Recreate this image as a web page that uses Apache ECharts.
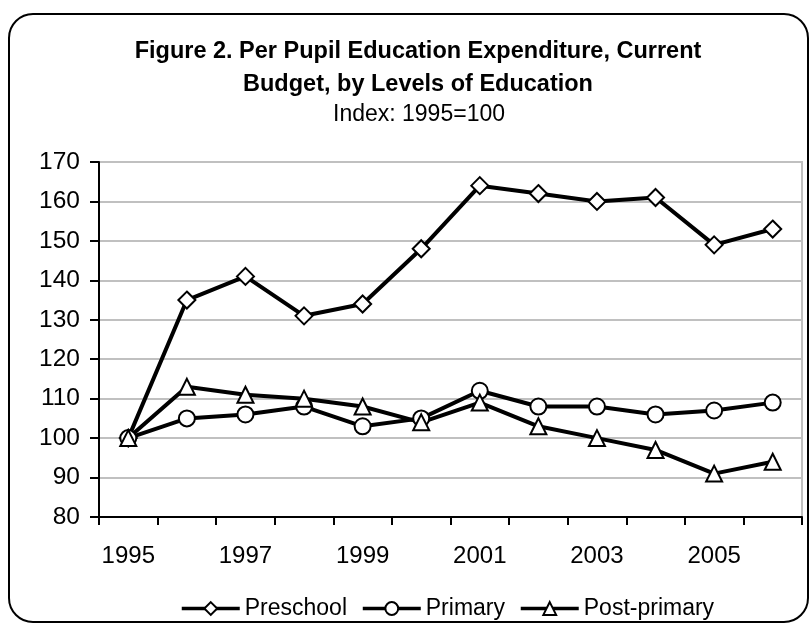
<!DOCTYPE html>
<html>
<head>
<meta charset="utf-8">
<script src="https://cdn.jsdelivr.net/npm/echarts@6/dist/echarts.min.js"></script>
<style>
  html, body { margin: 0; padding: 0; background: #fff; }
  #chart { width: 811px; height: 626px; }
</style>
</head>
<body>
<div id="chart"></div>
<script>
// Per pupil education expenditure index (1995 = 100)
const years = ['1995', '1996', '1997', '1998', '1999', '2000', '2001', '2002', '2003', '2004', '2005', '2006'];
const preschool = [100, 135, 141, 131, 134, 148, 164, 162, 160, 161, 149, 153];
const primary = [100, 105, 106, 108, 103, 105, 112, 108, 108, 106, 107, 109];
const postPrimary = [100, 113, 111, 110, 108, 104, 109, 103, 100, 97, 91, 94];
const seriesNames = ['Preschool', 'Primary', 'Post-primary'];

const titleLine1 = 'Figure 2. Per Pupil Education Expenditure, Current';
const titleLine2 = 'Budget, by Levels of Education';
const subtitleText = 'Index: 1995=100';

const yMin = 80;
const yMax = 170;
const yStep = 10;

const FONT = '"Liberation Sans", Arial, Helvetica, sans-serif';

const chart = echarts.init(document.getElementById('chart'), null, { renderer: 'canvas' });

function lineSeries(name, data, symbol, size) {
  return {
    name: name,
    type: 'line',
    data: data,
    symbol: symbol,
    symbolSize: size,
    showAllSymbol: true,
    lineStyle: { color: '#000', width: 4 },
    itemStyle: { color: '#fff', borderColor: '#000', borderWidth: 2 },
    emphasis: { disabled: true },
    animation: false
  };
}

const option = {
  animation: false,
  backgroundColor: '#fff',
  textStyle: { fontFamily: FONT },
  graphic: [
    {
      type: 'rect',
      z: -10,
      shape: { x: 9, y: 14, width: 799, height: 608, r: 24 },
      style: { fill: 'none', stroke: '#000', lineWidth: 2 }
    },
    {
      type: 'text', x: 418, y: 52,
      style: { text: titleLine1, fontFamily: FONT, fontSize: 23.5, fontWeight: 'bold', fill: '#000', align: 'center', verticalAlign: 'middle' }
    },
    {
      type: 'text', x: 418, y: 85,
      style: { text: titleLine2, fontFamily: FONT, fontSize: 23.5, fontWeight: 'bold', fill: '#000', align: 'center', verticalAlign: 'middle' }
    },
    {
      type: 'text', x: 419, y: 115,
      style: { text: subtitleText, fontFamily: FONT, fontSize: 23, fill: '#000', align: 'center', verticalAlign: 'middle' }
    }
  ],
  grid: {
    left: 99, right: 9, top: 162, bottom: 109,
    outerBoundsMode: 'none',
    show: true,
    borderColor: '#c0c0c0',
    borderWidth: 2,
    backgroundColor: 'transparent'
  },
  legend: {
    data: seriesNames,
    left: 175,
    top: 592,
    itemWidth: 58,
    itemHeight: 16,
    itemGap: 14,
    textStyle: { fontFamily: FONT, fontSize: 23, color: '#000' },
    lineStyle: { width: 3.5 },
    selectedMode: false
  },
  xAxis: {
    type: 'category',
    data: years,
    boundaryGap: true,
    axisLine: { lineStyle: { color: '#000', width: 2 } },
    axisTick: { show: true, interval: 0, length: 8, lineStyle: { color: '#000', width: 2 } },
    axisLabel: { interval: 1, margin: 27, fontFamily: FONT, fontSize: 24, color: '#000' },
    splitLine: { show: false }
  },
  yAxis: {
    type: 'value',
    min: yMin,
    max: yMax,
    interval: yStep,
    axisLine: { show: true, lineStyle: { color: '#000', width: 2 } },
    axisTick: { show: true, length: 9, lineStyle: { color: '#000', width: 2 } },
    axisLabel: { margin: 19, fontFamily: FONT, fontSize: 24.5, color: '#000' },
    splitLine: { show: true, lineStyle: { color: '#c0c0c0', width: 2 } }
  },
  series: [
    lineSeries(seriesNames[0], preschool, 'diamond', 17),
    lineSeries(seriesNames[1], primary, 'circle', 16),
    lineSeries(seriesNames[2], postPrimary, 'triangle', 16)
  ]
};

chart.setOption(option);
</script>
</body>
</html>
